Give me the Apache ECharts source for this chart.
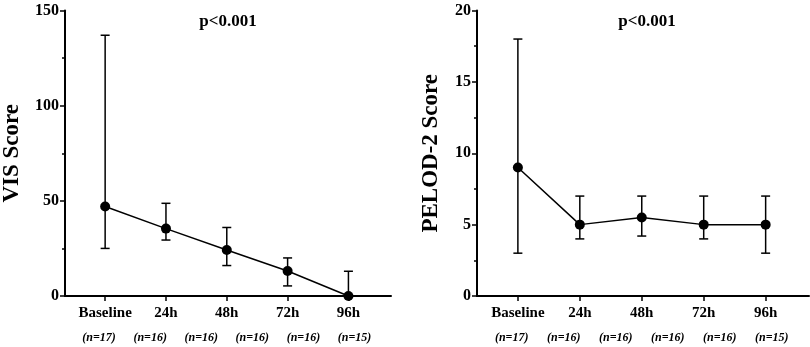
<!DOCTYPE html>
<html>
<head>
    <meta charset="utf-8">
    <title>VIS and PELOD-2 Score</title>
    <script src="https://cdn.jsdelivr.net/npm/echarts@6/dist/echarts.min.js"></script>
    <style>
        html, body { margin: 0; padding: 0; background: #fff; }
    </style>
</head>
<body>
    <div id="main" style="width: 810px;height:347px;"></div>

    <script type="text/javascript">
        // categories and data
        var categories = ['Baseline', '24h', '48h', '72h', '96h'];
        var nLabels = ['(n=17)', '(n=16)', '(n=16)', '(n=16)', '(n=16)', '(n=15)'];

        var visMean = [47, 35.4, 24.2, 13.1, 0];
        var visLow = [25, 29.4, 16, 5.3, 0];
        var visHigh = [137, 48.7, 36, 20, 13];

        var pelodMean = [9, 5, 5.5, 5, 5];
        var pelodLow = [3, 4, 4.2, 4, 3];
        var pelodHigh = [18, 7, 7, 7, 7];

        var font = 'Liberation Serif';
        var catIdx = categories.map(function (c, i) { return i; });
        // n-labels sit evenly spread under the axis, slightly wider than the categories
        var nPos = nLabels.map(function (s, i) { return -0.1 + i * 4.2 / (nLabels.length - 1); });

        var myChart = echarts.init(document.getElementById('main'));

        function xAxes(gridIndex) {
            return [{
                type: 'value',
                gridIndex: gridIndex,
                min: -0.66,
                max: 4.7,
                splitLine: {show: false},
                axisLine: {lineStyle: {color: '#000', width: 2}},
                axisTick: {show: true, customValues: catIdx, length: 5, lineStyle: {color: '#000', width: 1.5}},
                axisLabel: {
                    customValues: catIdx,
                    formatter: function (v) { return categories[Math.round(v)]; },
                    color: '#000', fontFamily: font, fontWeight: 'bold', fontSize: 15, margin: 10
                }
            }, {
                type: 'value',
                gridIndex: gridIndex,
                position: 'bottom',
                offset: 28,
                min: -0.66,
                max: 4.7,
                splitLine: {show: false},
                axisLine: {show: false},
                axisTick: {show: false},
                axisLabel: {
                    customValues: nPos,
                    formatter: function (v) {
                        var k = Math.round((v + 0.1) / (4.2 / (nLabels.length - 1)));
                        return nLabels[k];
                    },
                    color: '#000', fontFamily: font, fontWeight: 'bold', fontStyle: 'italic', fontSize: 12
                }
            }];
        }

        function yAxis(gridIndex, max, interval, name, nameGap) {
            return {
                type: 'value',
                gridIndex: gridIndex,
                min: 0,
                max: max,
                interval: interval,
                name: name,
                nameLocation: 'middle',
                nameGap: nameGap,
                nameTextStyle: {color: '#000', fontFamily: font, fontWeight: 'bold', fontSize: 23},
                splitLine: {show: false},
                axisLine: {show: true, onZero: false, lineStyle: {color: '#000', width: 2}},
                axisTick: {show: true, length: 5, lineStyle: {color: '#000', width: 1.5}},
                minorTick: {show: true, splitNumber: 2, length: 3, lineStyle: {color: '#000', width: 1.5}},
                axisLabel: {color: '#000', fontFamily: font, fontWeight: 'bold', fontSize: 16, margin: 6}
            };
        }

        function errorBar(xIndex, yIndex, low, high) {
            return {
                type: 'custom',
                xAxisIndex: xIndex,
                yAxisIndex: yIndex,
                clip: false,
                z: 1,
                data: low.map(function (l, i) { return [i, l, high[i]]; }),
                renderItem: function (params, api) {
                    var x = api.value(0);
                    var lo = api.coord([x, api.value(1)]);
                    var hi = api.coord([x, api.value(2)]);
                    var w = 4.5;
                    var st = {stroke: '#000', lineWidth: 1.5};
                    return {
                        type: 'group',
                        children: [
                            {type: 'line', shape: {x1: lo[0], y1: lo[1], x2: hi[0], y2: hi[1]}, style: st},
                            {type: 'line', shape: {x1: hi[0] - w, y1: hi[1], x2: hi[0] + w, y2: hi[1]}, style: st},
                            {type: 'line', shape: {x1: lo[0] - w, y1: lo[1], x2: lo[0] + w, y2: lo[1]}, style: st}
                        ]
                    };
                }
            };
        }

        function meanLine(xIndex, yIndex, mean) {
            return {
                type: 'line',
                xAxisIndex: xIndex,
                yAxisIndex: yIndex,
                z: 3,
                data: mean.map(function (m, i) { return [i, m]; }),
                symbol: 'circle',
                symbolSize: 10,
                clip: false,
                itemStyle: {color: '#000'},
                lineStyle: {color: '#000', width: 1.5}
            };
        }

        var option = {
            animation: false,
            backgroundColor: '#fff',
            title: [{
                text: 'p<0.001',
                left: 223,
                top: 8,
                textAlign: 'center',
                textStyle: {color: '#000', fontFamily: font, fontWeight: 'bold', fontSize: 17}
            }, {
                text: 'p<0.001',
                left: 642,
                top: 8,
                textAlign: 'center',
                textStyle: {color: '#000', fontFamily: font, fontWeight: 'bold', fontSize: 17}
            }],
            grid: [
                {left: 58, right: 419, top: 10.5, bottom: 51},
                {left: 477, right: 1, top: 10.5, bottom: 51}
            ],
            xAxis: xAxes(0).concat(xAxes(1)),
            yAxis: [
                yAxis(0, 150, 50, 'VIS Score', 41),
                yAxis(1, 20, 5, 'PELOD-2 Score', 34)
            ],
            series: [
                errorBar(0, 0, visLow, visHigh),
                meanLine(0, 0, visMean),
                errorBar(2, 1, pelodLow, pelodHigh),
                meanLine(2, 1, pelodMean)
            ]
        };

        myChart.setOption(option);
    </script>
</body>
</html>
